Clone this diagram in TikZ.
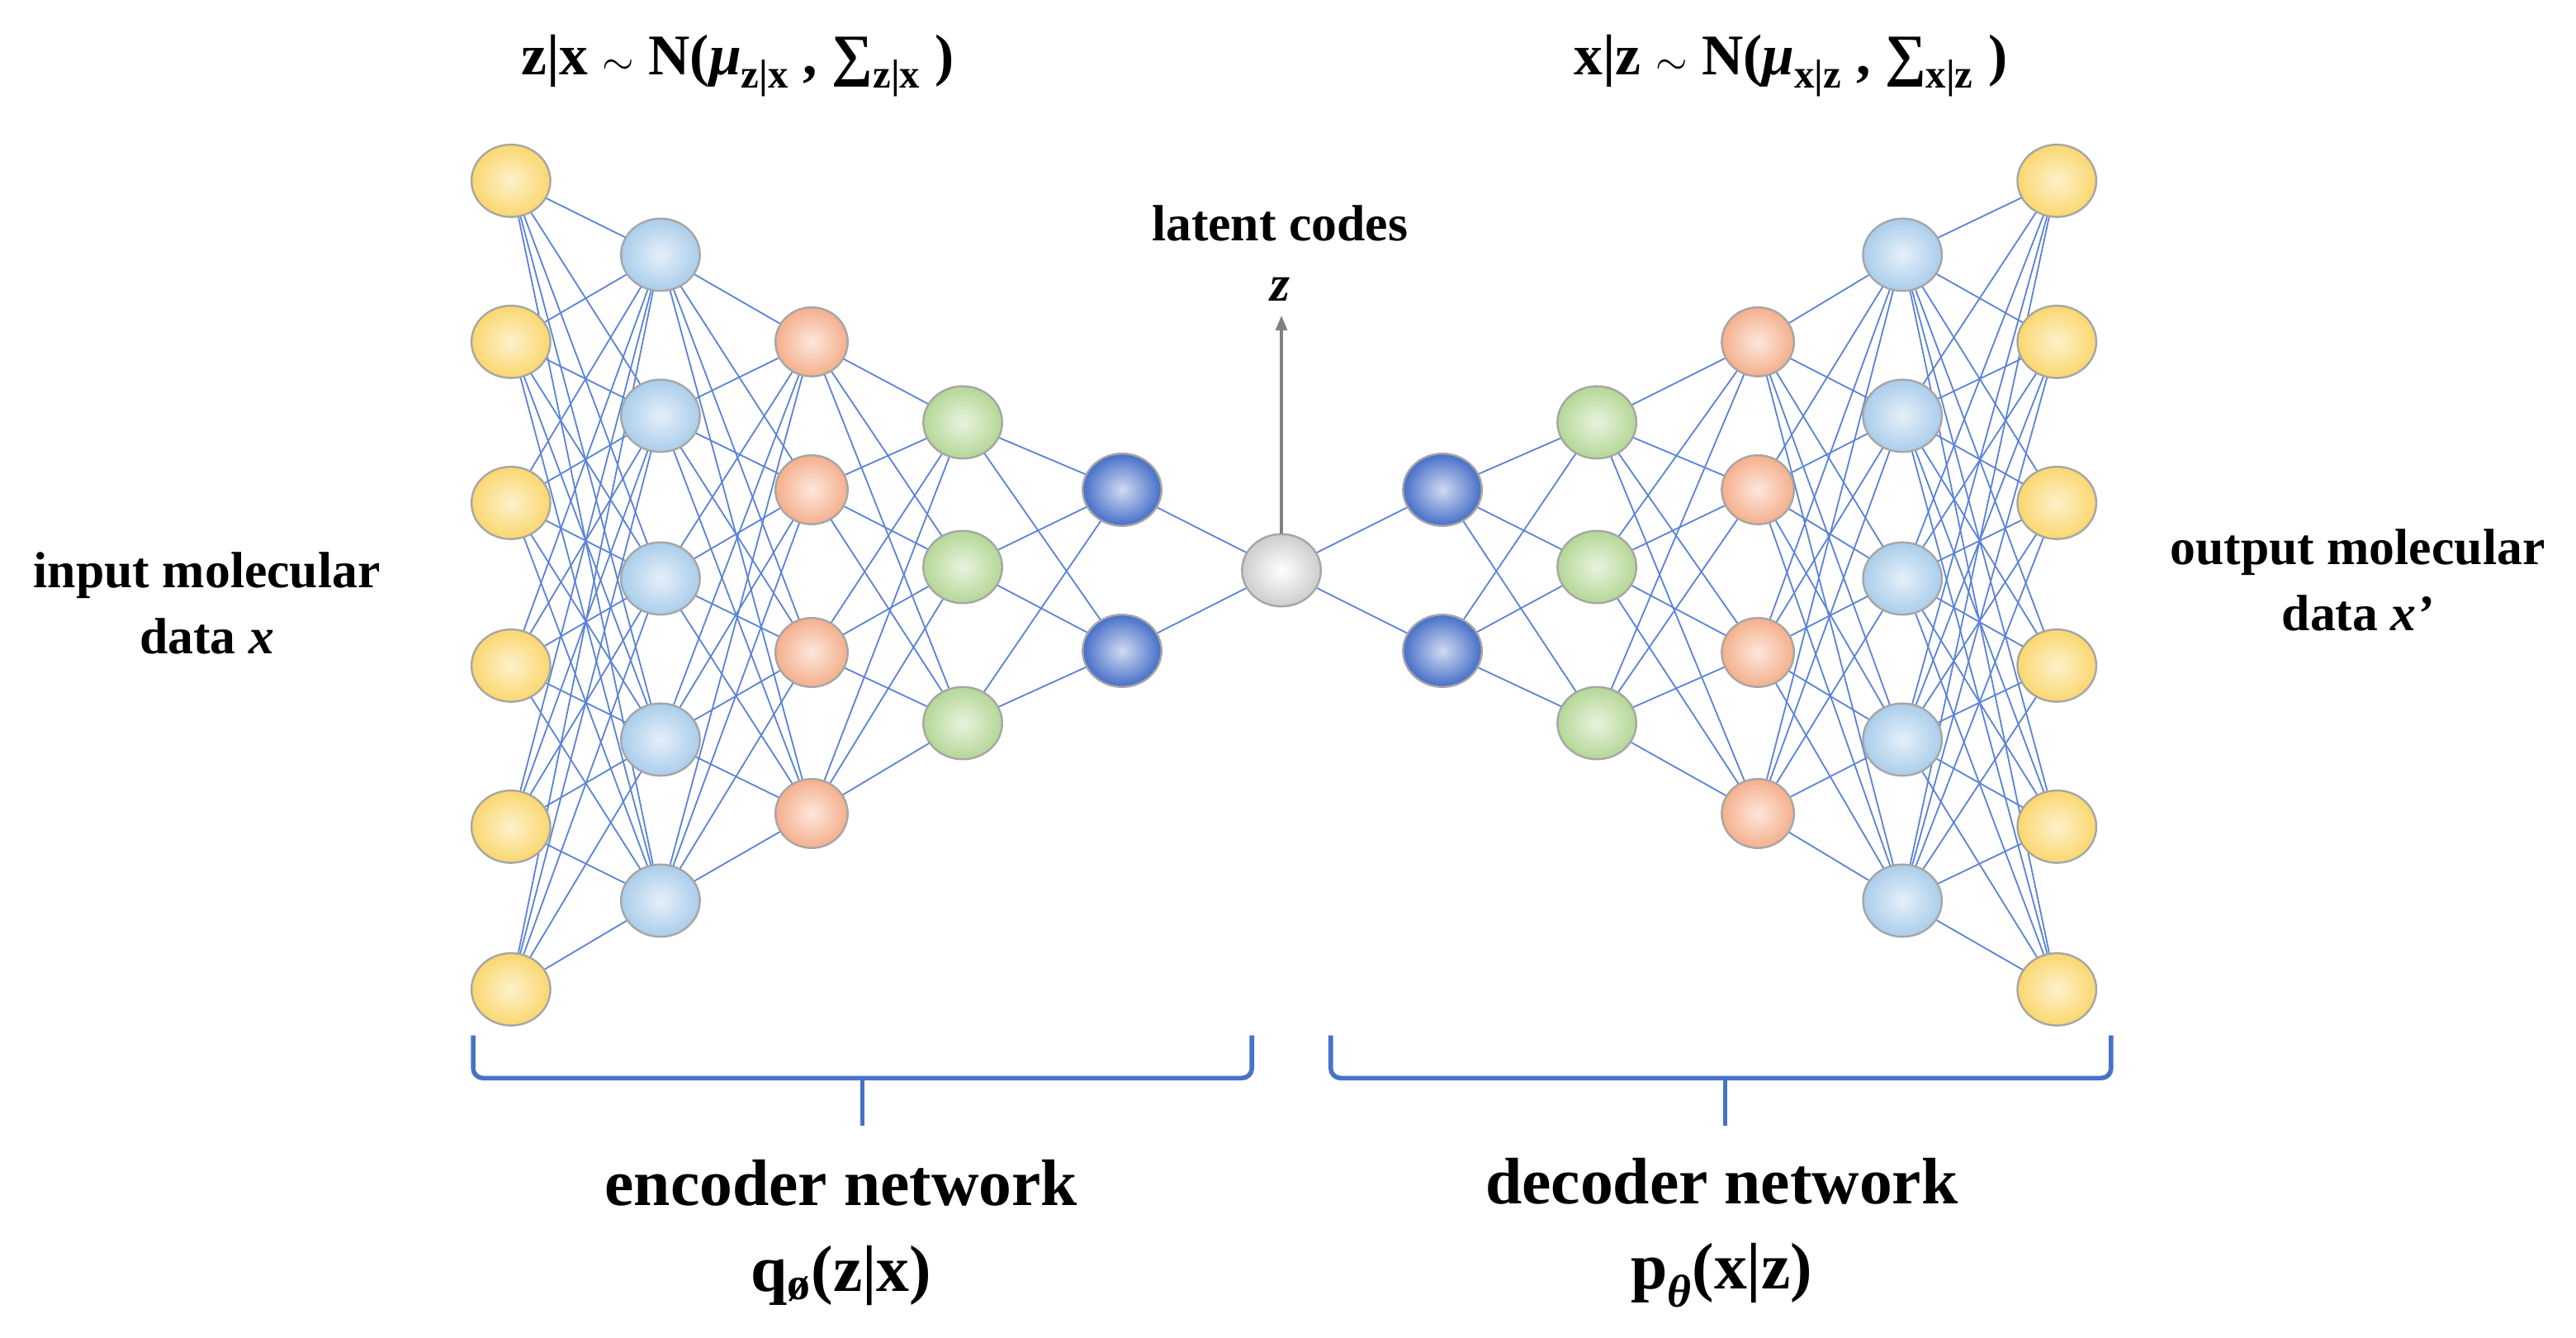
\documentclass[tikz,border=0pt]{standalone}
\usepackage{fontspec}
\setmainfont{Liberation Serif}
\usetikzlibrary{shapes.geometric,arrows.meta}
\definecolor{lk}{RGB}{90,130,215}
\definecolor{yel}{RGB}{250,215,110}
\definecolor{lbl}{RGB}{170,205,235}
\definecolor{ora}{RGB}{245,175,140}
\definecolor{grn}{RGB}{180,215,150}
\definecolor{dbl}{RGB}{70,110,200}
\definecolor{gry}{RGB}{205,205,205}
\definecolor{brc}{RGB}{70,115,200}
\tikzset{
 neu/.style={ellipse,draw=gray!70,line width=1.2pt,minimum width=48pt,minimum height=44pt,inner sep=0pt},
 Y/.style={neu,inner color=yel!35,outer color=yel},
 L/.style={neu,inner color=lbl!30,outer color=lbl},
 O/.style={neu,inner color=ora!30,outer color=ora},
 G/.style={neu,inner color=grn!30,outer color=grn},
 D/.style={neu,inner color=dbl!25,outer color=dbl},
 C/.style={neu,inner color=white,outer color=gry},
 lnk/.style={draw=lk,line width=0.9pt},
 br/.style={draw=brc,line width=2.8pt,rounded corners=6pt},
 lab/.style={font=\bfseries,align=center}
}
\begin{document}
\begin{tikzpicture}[x=1pt,y=-1pt]
\useasboundingbox (0,0) rectangle (1568,814);
\def\LA{110,208,306,405,503,602}
\def\LB{155,253,352,450,548}
\def\LC{208,298,397,495}
\def\LD{257,345,440}
\def\LE{298,396}
\foreach \a in \LA {\foreach \b in \LB {\draw[lnk] (311,\a)--(402,\b); \draw[lnk] (1252,\a)--(1158,\b);}}
\foreach \a in \LB {\foreach \b in \LC {\draw[lnk] (402,\a)--(494,\b); \draw[lnk] (1158,\a)--(1070,\b);}}
\foreach \a in \LC {\foreach \b in \LD {\draw[lnk] (494,\a)--(586,\b); \draw[lnk] (1070,\a)--(972,\b);}}
\foreach \a in \LD {\foreach \b in \LE {\draw[lnk] (586,\a)--(683,\b); \draw[lnk] (972,\a)--(878,\b);}}
\foreach \a in \LE {\draw[lnk] (683,\a)--(780,347); \draw[lnk] (878,\a)--(780,347);}
\foreach \y [count=\i] in \LA {\node[Y] (ea\i) at (311,\y) {}; \node[Y] (da\i) at (1252,\y) {};}
\foreach \y [count=\i] in \LB {\node[L] (eb\i) at (402,\y) {}; \node[L] (db\i) at (1158,\y) {};}
\foreach \y [count=\i] in \LC {\node[O,minimum width=44pt,minimum height=42pt] (ec\i) at (494,\y) {}; \node[O,minimum width=44pt,minimum height=42pt] (dc\i) at (1070,\y) {};}
\foreach \y [count=\i] in \LD {\node[G] (ed\i) at (586,\y) {}; \node[G] (dd\i) at (972,\y) {};}
\foreach \y [count=\i] in \LE {\node[D] (ee\i) at (683,\y) {}; \node[D] (de\i) at (878,\y) {};}
\node[C] (z) at (780,347) {};
\coordinate (zt) at (780,192);
\draw[gray,line width=1.6pt,-{Triangle[length=9pt,width=7pt]}] (z.north)--(zt);
\node[lab,font=\bfseries\fontsize{35}{38}\selectfont] (t1) at (449,40) {z|x $\sim$ N(\textit{μ}\textsubscript{z|x} , ∑\textsubscript{z|x} )};
\node[lab,font=\bfseries\fontsize{35}{38}\selectfont] (t2) at (1090,40) {x|z $\sim$ N(\textit{μ}\textsubscript{x|z} , ∑\textsubscript{x|z} )};
\node[lab,font=\bfseries\fontsize{31}{40}\selectfont] (lc) at (779,136) {latent codes};
\node[lab,font=\bfseries\fontsize{31}{40}\selectfont] (zz) at (779,176) {\textit{z}};
\node[lab,font=\bfseries\fontsize{31}{40}\selectfont] (in) at (126,367) {input molecular\\data \textit{x}};
\node[lab,font=\bfseries\fontsize{31}{40}\selectfont] (out) at (1435,353) {output molecular\\data \textit{x\char"2019}};
\coordinate (b1) at (288,630); \coordinate (b2) at (762,630); \coordinate (bt1) at (525,685);
\coordinate (c1) at (810,630); \coordinate (c2) at (1285,630); \coordinate (bt2) at (1050,685);
\draw[br] (b1) -- (288,656) -- (762,656) -- (b2);
\draw[draw=brc,line width=2.8pt] (525,656) -- (bt1);
\draw[br] (c1) -- (810,656) -- (1285,656) -- (c2);
\draw[draw=brc,line width=2.8pt] (1050,656) -- (bt2);
\node[lab,font=\bfseries\fontsize{40}{52}\selectfont] (enc) at (512,750) {encoder network\\q\textsubscript{ø}(z|x)};
\node[lab,font=\bfseries\fontsize{40}{52}\selectfont] (dec) at (1048,750) {decoder network\\p\textsubscript{\textit{θ}}(x|z)};
\end{tikzpicture}
\end{document}
